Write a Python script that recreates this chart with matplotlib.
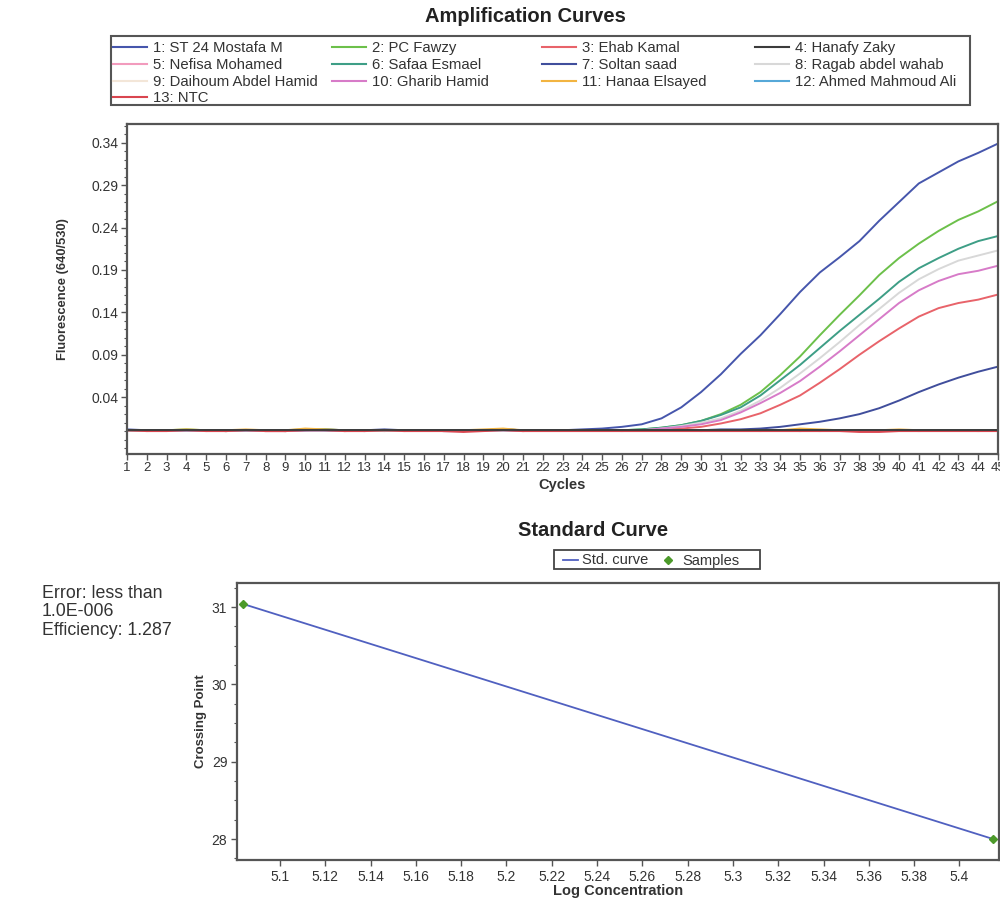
import matplotlib
matplotlib.use('Agg')
import matplotlib.pyplot as plt
from matplotlib.ticker import MultipleLocator, FixedLocator, FuncFormatter
from matplotlib.lines import Line2D
from matplotlib.patches import Rectangle

plt.rcParams['font.family'] = ['Liberation Sans', 'DejaVu Sans']

# ---- amplification data (fluorescence 640/530 per cycle) ----
cycles = list(range(1, 46))

st24_mostafa = [0.002, 0.001, 0.001, 0.001, 0.001, 0.000, 0.001, 0.001, 0.000, 0.001,
                0.002, 0.001, 0.000, 0.001, 0.001, 0.001, 0.000, 0.000, 0.001, 0.002,
                0.001, 0.001, 0.001, 0.002, 0.003, 0.005, 0.008, 0.015, 0.028, 0.046,
                0.067, 0.091, 0.113, 0.138, 0.164, 0.187, 0.205, 0.224, 0.248, 0.270,
                0.292, 0.305, 0.318, 0.328, 0.339]
pc_fawzy = [0.001, 0.001, 0.001, 0.002, 0.001, 0.000, 0.001, 0.001, 0.000, 0.002,
            0.002, 0.001, 0.001, 0.001, 0.001, 0.001, 0.001, 0.000, 0.001, 0.002,
            0.001, 0.001, 0.001, 0.001, 0.001, 0.001, 0.002, 0.004, 0.007, 0.012,
            0.020, 0.031, 0.046, 0.066, 0.088, 0.113, 0.137, 0.160, 0.184, 0.204,
            0.221, 0.236, 0.249, 0.259, 0.271]
ehab_kamal = [0.001, 0.001, 0.001, 0.001, 0.001, 0.000, 0.001, 0.000, 0.000, 0.001,
              0.001, 0.000, 0.001, 0.000, 0.001, 0.001, 0.000, 0.000, 0.001, 0.002,
              0.000, 0.001, 0.001, 0.001, 0.001, 0.001, 0.001, 0.002, 0.003, 0.005,
              0.009, 0.014, 0.021, 0.031, 0.042, 0.057, 0.073, 0.090, 0.106, 0.121,
              0.135, 0.145, 0.151, 0.155, 0.161]
hanafy_zaky = [0.001, 0.001, 0.001, 0.001, 0.001, 0.001, 0.001, 0.001, 0.001, 0.001,
               0.001, 0.001, 0.001, 0.001, 0.001, 0.001, 0.001, 0.001, 0.001, 0.001,
               0.001, 0.001, 0.001, 0.001, 0.001, 0.001, 0.001, 0.001, 0.001, 0.001,
               0.001, 0.001, 0.001, 0.001, 0.001, 0.001, 0.001, 0.001, 0.001, 0.001,
               0.001, 0.001, 0.001, 0.001, 0.001]
nefisa_mohamed = [0.001, 0.000, 0.001, 0.001, 0.000, 0.001, 0.001, 0.000, 0.000, 0.001,
                  0.001, 0.000, 0.001, 0.001, 0.000, 0.001, 0.000, 0.000, 0.001, 0.001,
                  0.000, 0.001, 0.001, 0.001, 0.001, 0.000, 0.001, 0.001, 0.001, 0.000,
                  0.001, 0.001, 0.000, 0.001, 0.001, 0.000, 0.001, 0.000, 0.001, 0.001,
                  0.000, 0.001, 0.001, 0.000, 0.001]
safaa_esmael = [0.001, 0.001, 0.001, 0.001, 0.001, 0.001, 0.001, 0.001, 0.001, 0.002,
                0.001, 0.001, 0.001, 0.001, 0.001, 0.001, 0.001, 0.001, 0.001, 0.002,
                0.001, 0.001, 0.001, 0.001, 0.001, 0.001, 0.002, 0.004, 0.007, 0.012,
                0.019, 0.028, 0.042, 0.060, 0.078, 0.098, 0.118, 0.137, 0.156, 0.176,
                0.192, 0.204, 0.215, 0.224, 0.230]
soltan_saad = [0.001, 0.001, 0.001, 0.001, 0.001, 0.001, 0.001, 0.001, 0.001, 0.001,
               0.001, 0.001, 0.001, 0.002, 0.001, 0.001, 0.001, 0.001, 0.001, 0.001,
               0.001, 0.001, 0.001, 0.001, 0.001, 0.001, 0.001, 0.001, 0.001, 0.001,
               0.002, 0.002, 0.003, 0.005, 0.008, 0.011, 0.015, 0.020, 0.027, 0.036,
               0.046, 0.055, 0.063, 0.070, 0.076]
ragab_abdel_wahab = [0.001, 0.001, 0.001, 0.001, 0.001, 0.001, 0.001, 0.001, 0.001, 0.001,
                     0.001, 0.001, 0.001, 0.001, 0.001, 0.001, 0.001, 0.001, 0.001, 0.001,
                     0.001, 0.001, 0.001, 0.001, 0.001, 0.001, 0.001, 0.003, 0.006, 0.010,
                     0.015, 0.024, 0.036, 0.051, 0.068, 0.086, 0.105, 0.125, 0.144, 0.163,
                     0.179, 0.191, 0.201, 0.207, 0.213]
daihoum_abdel_hamid = [0.001, 0.001, 0.001, 0.001, 0.001, 0.001, 0.001, 0.001, 0.001, 0.001,
                       0.001, 0.001, 0.001, 0.001, 0.001, 0.001, 0.001, 0.001, 0.001, 0.001,
                       0.001, 0.001, 0.001, 0.001, 0.001, 0.001, 0.001, 0.001, 0.001, 0.001,
                       0.001, 0.001, 0.001, 0.001, 0.001, 0.001, 0.001, 0.001, 0.001, 0.001,
                       0.001, 0.001, 0.001, 0.001, 0.001]
gharib_hamid = [0.001, 0.001, 0.001, 0.001, 0.001, 0.001, 0.001, 0.001, 0.001, 0.001,
                0.001, 0.001, 0.001, 0.001, 0.001, 0.001, 0.001, 0.001, 0.001, 0.002,
                0.001, 0.001, 0.001, 0.001, 0.001, 0.001, 0.001, 0.003, 0.005, 0.008,
                0.013, 0.022, 0.033, 0.045, 0.059, 0.076, 0.094, 0.113, 0.132, 0.151,
                0.166, 0.177, 0.185, 0.189, 0.195]
hanaa_elsayed = [0.001, 0.001, 0.001, 0.002, 0.001, 0.001, 0.002, 0.001, 0.001, 0.003,
                 0.002, 0.001, 0.001, 0.001, 0.001, 0.001, 0.001, 0.001, 0.002, 0.003,
                 0.001, 0.001, 0.001, 0.001, 0.001, 0.001, 0.001, 0.001, 0.001, 0.001,
                 0.001, 0.001, 0.001, 0.001, 0.003, 0.002, 0.001, 0.001, 0.001, 0.002,
                 0.001, 0.001, 0.001, 0.001, 0.001]
ahmed_mahmoud_ali = [0.001, 0.001, 0.001, 0.001, 0.001, 0.001, 0.001, 0.001, 0.001, 0.001,
                     0.001, 0.001, 0.001, 0.001, 0.001, 0.001, 0.001, 0.001, 0.001, 0.001,
                     0.001, 0.001, 0.001, 0.001, 0.001, 0.001, 0.001, 0.001, 0.001, 0.001,
                     0.001, 0.001, 0.001, 0.001, 0.000, 0.001, 0.001, 0.001, 0.001, 0.001,
                     0.001, 0.001, 0.001, 0.001, 0.001]
ntc = [0.001, 0.000, 0.000, 0.001, 0.000, 0.000, 0.001, 0.000, 0.000, 0.001,
       0.001, 0.000, 0.000, 0.001, 0.000, 0.000, 0.000, -0.001, 0.000, 0.001,
       0.000, 0.000, 0.000, 0.000, 0.000, 0.000, 0.000, 0.000, 0.000, 0.000,
       0.000, 0.000, 0.000, 0.000, 0.000, 0.000, 0.000, -0.001, -0.001, 0.000,
       0.000, 0.000, 0.000, 0.000, 0.000]

sample_names = ['1: ST 24 Mostafa M', '2: PC Fawzy', '3: Ehab Kamal', '4: Hanafy Zaky',
                '5: Nefisa Mohamed', '6: Safaa Esmael', '7: Soltan saad',
                '8: Ragab abdel wahab', '9: Daihoum Abdel Hamid', '10: Gharib Hamid',
                '11: Hanaa Elsayed', '12: Ahmed Mahmoud Ali', '13: NTC']
sample_series = [st24_mostafa, pc_fawzy, ehab_kamal, hanafy_zaky, nefisa_mohamed,
                 safaa_esmael, soltan_saad, ragab_abdel_wahab, daihoum_abdel_hamid,
                 gharib_hamid, hanaa_elsayed, ahmed_mahmoud_ali, ntc]
sample_colors = ['#4656ac', '#6cc04a', '#e8636a', '#3c3c3c', '#f29bbd', '#3e9e86',
                 '#404e9c', '#d8d8d8', '#f3e6d8', '#d77bc8', '#f2b441', '#56a8d8', '#d9454f']

fluor_ticks = [0.04, 0.09, 0.14, 0.19, 0.24, 0.29, 0.34]

# ---- standard curve data ----
log_conc = [5.0837, 5.4150]
crossing_point = [31.04, 28.00]
log_ticks = [5.1, 5.12, 5.14, 5.16, 5.18, 5.2, 5.22, 5.24, 5.26, 5.28,
             5.3, 5.32, 5.34, 5.36, 5.38, 5.4]
cp_ticks = [28, 29, 30, 31]

W, H = 1000, 899
spine_col = '#555555'
txt_col = '#333333'


def fx(px):
    return px / W


def fy(py):
    return 1 - py / H


fig = plt.figure(figsize=(10, 8.99), dpi=100)

# ================= amplification curves =================
ax = fig.add_axes([0.127, 0.495, 0.871, 0.367])
for vals, col in zip(sample_series, sample_colors):
    ax.plot(cycles, vals, color=col, lw=1.4)
ax.plot(cycles, hanafy_zaky, color=sample_colors[3], lw=1.4)

ax.set_xlim(1, 45)
ax.set_ylim(-0.027, 0.362)
ax.set_xticks(cycles)
ax.set_xticklabels([str(c) for c in cycles], fontsize=9.5, color=txt_col)
ax.set_yticks(fluor_ticks)
ax.set_yticklabels(['%.2f' % t for t in fluor_ticks], fontsize=10, color=txt_col)
ax.yaxis.set_minor_locator(MultipleLocator(0.01))
ax.tick_params(axis='both', which='major', length=4, width=1, color=spine_col, pad=2)
ax.tick_params(axis='y', which='minor', length=2, width=0.8, color=spine_col)
for s in ax.spines.values():
    s.set_color(spine_col)
    s.set_linewidth(1.6)
ax.set_xlabel('Cycles', fontsize=10.5, fontweight='bold', color=txt_col, labelpad=3)
ax.set_ylabel('Fluorescence (640/530)', fontsize=9.3, fontweight='bold', color=txt_col,
              labelpad=16)

fig.text(0.525, fy(17), 'Amplification Curves', ha='center', va='center',
         fontsize=14.5, fontweight='bold', color='#222222')

# legend box, filled row by row like the instrument software
fig.add_artist(Rectangle((fx(111), fy(105)), fx(970) - fx(111), fy(36) - fy(105),
                         transform=fig.transFigure, facecolor='white',
                         edgecolor=spine_col, lw=1.5))
col_x = [113, 332, 542, 755]
row_y = [47, 64, 81, 97]
for i, (name, col) in enumerate(zip(sample_names, sample_colors)):
    x0 = col_x[i % 4]
    y0 = row_y[i // 4]
    fig.add_artist(Line2D([fx(x0), fx(x0 + 34)], [fy(y0), fy(y0)],
                          transform=fig.transFigure, color=col, lw=1.5))
    fig.text(fx(x0 + 40), fy(y0 + 5), name, ha='left', va='baseline', fontsize=10.7,
             color=txt_col)

# ================= standard curve =================
ax2 = fig.add_axes([0.237, 0.0434, 0.762, 0.308])
ax2.plot(log_conc, crossing_point, color='#5060c0', lw=1.3)
ax2.plot(log_conc, crossing_point, ls='none', marker='D', ms=4.5, color='#4c9a2a')
ax2.set_xlim(5.081, 5.4175)
ax2.set_ylim(27.73, 31.31)
ax2.xaxis.set_major_locator(FixedLocator(log_ticks))
ax2.xaxis.set_major_formatter(FuncFormatter(lambda v, p: '%g' % round(v, 2)))
ax2.set_yticks(cp_ticks)
ax2.yaxis.set_minor_locator(MultipleLocator(0.25))
ax2.tick_params(axis='both', which='major', length=4, width=1, color=spine_col,
                labelsize=10, labelcolor=txt_col, pad=3)
ax2.tick_params(axis='y', which='minor', length=2, width=0.8, color=spine_col)
for s in ax2.spines.values():
    s.set_color(spine_col)
    s.set_linewidth(1.6)
ax2.set_xlabel('Log Concentration', fontsize=10.5, fontweight='bold', color=txt_col,
               labelpad=0)
ax2.set_ylabel('Crossing Point', fontsize=9.5, fontweight='bold', color=txt_col,
               labelpad=3)

fig.text(0.593, fy(530), 'Standard Curve', ha='center', va='center',
         fontsize=14.5, fontweight='bold', color='#222222')

# small legend of the standard curve panel
fig.add_artist(Rectangle((fx(554), fy(569)), fx(760) - fx(554), fy(550) - fy(569),
                         transform=fig.transFigure, facecolor='white',
                         edgecolor='#444444', lw=1.3))
fig.add_artist(Line2D([fx(563), fx(578)], [fy(559.5), fy(559.5)],
                      transform=fig.transFigure, color='#5060c0', lw=1.3))
fig.text(fx(582), fy(564.5), 'Std. curve', ha='left', va='baseline', fontsize=10.5,
         color=txt_col)
fig.add_artist(Line2D([fx(668)], [fy(559.5)], transform=fig.transFigure, ls='none',
                      marker='D', ms=4, color='#4c9a2a'))
fig.text(fx(682), fy(564.5), 'Samples', ha='left', va='baseline', fontsize=10.5,
         color=txt_col)

fig.text(0.042, fy(585), 'Error: less than\n1.0E-006\nEfficiency: 1.287',
         ha='left', va='top', fontsize=12.8, color=txt_col, linespacing=1.1)

fig.savefig('out.png', dpi=100, facecolor='white')
